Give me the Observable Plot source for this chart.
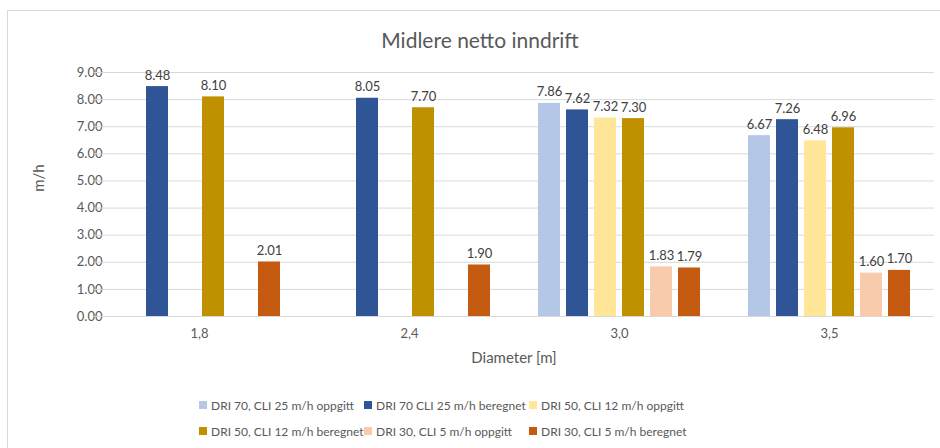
<!DOCTYPE html>
<html>
<head>
<meta charset="utf-8">
<script src="https://cdn.jsdelivr.net/npm/d3@7"></script>
<script src="https://cdn.jsdelivr.net/npm/@observablehq/plot@0.6"></script>
<style>
  html, body { margin: 0; padding: 0; background: #fff; }
  #wrap { position: relative; width: 940px; height: 448px; overflow: hidden; font-family: Lato, "Open Sans", sans-serif; color: #595959; }
  #frame { position: absolute; left: 7px; top: 10px; width: 1000px; height: 1000px; border-left: 1px solid #d9d9d9; border-top: 1px solid #d9d9d9; }
  #title { position: absolute; left: 0; width: 960px; top: 27px; text-align: center; font-size: 21px; line-height: 26px; color: #595959; }
  #ylab { position: absolute; left: 38px; top: 178px; transform: translate(-50%, -50%) rotate(-90deg); font-size: 15px; white-space: nowrap; }
  #xlab { position: absolute; left: 514px; top: 357px; transform: translate(-50%, -50%); font-size: 15px; white-space: nowrap; }
  #chart { position: absolute; left: 0; top: 0; }
  #legend { position: absolute; left: 199px; top: 396px; width: 560px; display: flex; flex-wrap: wrap; row-gap: 8px; font-size: 12px; color: #595959; }
  .item { width: 165px; display: flex; align-items: center; white-space: nowrap; height: 18px; }
  .sw { width: 8px; height: 8px; margin-right: 4px; flex: none; }
</style>
</head>
<body>
<div id="wrap">
  <div id="frame"></div>
  <div id="chart"></div>
  <div id="title">Midlere netto inndrift</div>
  <div id="ylab">m/h</div>
  <div id="xlab">Diameter [m]</div>
  <div id="legend"></div>
</div>
<script>
const categories = ["1,8", "2,4", "3,0", "3,5"];
const seriesNames = [
  "DRI 70, CLI 25 m/h oppgitt",
  "DRI 70 CLI 25 m/h beregnet",
  "DRI 50, CLI 12 m/h oppgitt",
  "DRI 50, CLI 12 m/h beregnet",
  "DRI 30, CLI 5 m/h oppgitt",
  "DRI 30, CLI 5 m/h beregnet"
];
const colors = ["#B4C7E7", "#2F5597", "#FFE699", "#BF9000", "#F8CBAD", "#C55A11"];
const dri70Oppgitt  = [null, null, 7.86, 6.67];
const dri70Beregnet = [8.48, 8.05, 7.62, 7.26];
const dri50Oppgitt  = [null, null, 7.32, 6.48];
const dri50Beregnet = [8.10, 7.70, 7.30, 6.96];
const dri30Oppgitt  = [null, null, 1.83, 1.60];
const dri30Beregnet = [2.01, 1.90, 1.79, 1.70];
const yTicks = [0, 1, 2, 3, 4, 5, 6, 7, 8, 9];

const seriesValues = [dri70Oppgitt, dri70Beregnet, dri50Oppgitt, dri50Beregnet, dri30Oppgitt, dri30Beregnet];
const data = seriesNames.flatMap((s, i) =>
  seriesValues[i].map((v, j) => ({cat: categories[j], series: s, value: v}))
).filter(d => d.value != null);

const chart = Plot.plot({
  width: 940,
  height: 372,
  marginLeft: 94,
  marginRight: 6,
  marginTop: 72,
  marginBottom: 56,
  style: {fontFamily: "Lato, 'Open Sans', sans-serif", fontSize: "13px", color: "#595959", background: "transparent", overflow: "visible"},
  fx: {domain: categories, paddingInner: 0.2, paddingOuter: 0.1, axis: "bottom", tickSize: 0, tickPadding: 12, label: null},
  x: {domain: seriesNames, paddingInner: 0.2, paddingOuter: 0.1, axis: null},
  y: {domain: [0, 9], ticks: yTicks, tickFormat: d => d.toFixed(2), tickSize: 0, tickPadding: 13, label: null},
  color: {domain: seriesNames, range: colors},
  marks: [
    Plot.ruleY(yTicks, {stroke: "#d9d9d9", strokeWidth: 1, insetLeft: -21, insetRight: -21}),
    Plot.barY(data, {fx: "cat", x: "series", y: "value", fill: "series"}),
    Plot.text(data, {fx: "cat", x: "series", y: "value", text: d => d.value.toFixed(2), lineAnchor: "bottom", dy: -7, fill: "#404040", fontSize: 13})
  ]
});
document.getElementById("chart").appendChild(chart);

const legend = document.getElementById("legend");
seriesNames.forEach((s, i) => {
  const item = document.createElement("div");
  item.className = "item";
  const sw = document.createElement("span");
  sw.className = "sw";
  sw.style.background = colors[i];
  const t = document.createElement("span");
  t.textContent = s;
  item.appendChild(sw);
  item.appendChild(t);
  legend.appendChild(item);
});
</script>
</body>
</html>
